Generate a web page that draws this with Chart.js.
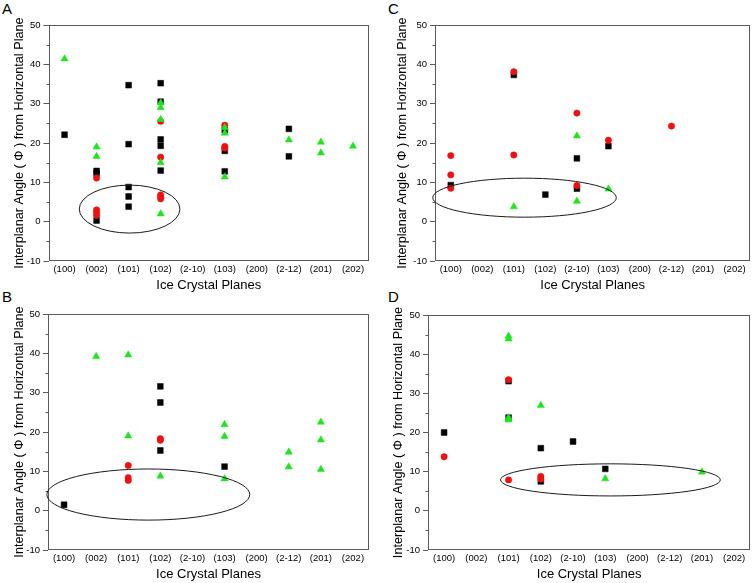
<!DOCTYPE html>
<html><head><meta charset="utf-8">
<script src="https://cdn.jsdelivr.net/npm/chart.js@4.4.0/dist/chart.umd.min.js"></script>
<style>
body{margin:0;background:#fff;width:755px;height:583px;position:relative;overflow:hidden;font-family:'Liberation Sans',Arial,sans-serif}
canvas{position:absolute}
.lbl{position:absolute;font-size:15px;line-height:15px;color:#000;font-family:'Liberation Sans',Arial,sans-serif}
</style></head><body>
<div class="lbl" style="left:2px;top:1px">A</div>
<div class="lbl" style="left:388px;top:1px">C</div>
<div class="lbl" style="left:2px;top:289px">B</div>
<div class="lbl" style="left:388px;top:289px">D</div>
<canvas id="cA" width="377" height="293" style="left:0;top:0"></canvas>
<canvas id="cC" width="372" height="293" style="left:383px;top:0"></canvas>
<canvas id="cB" width="377" height="292" style="left:0;top:290px"></canvas>
<canvas id="cD" width="376" height="292" style="left:379px;top:290px"></canvas>
<script>
const categories = ['(100)','(002)','(101)','(102)','(2-10)','(103)','(200)','(2-12)','(201)','(202)'];
const yMin = -10, yMax = 50, yStep = 10;
const xTitle = 'Ice Crystal Planes';
const yTitle = 'Interplanar Angle ( \u03A6 ) from Horizontal Plane';

// Panel A
const A_squares = [['(100)',22.1],['(002)',12.9],['(002)',12.3],['(002)',0.3],['(101)',34.7],['(101)',19.7],['(101)',8.8],['(101)',6.4],['(101)',3.8],['(102)',35.2],['(102)',30.5],['(102)',20.9],['(102)',19.3],['(102)',13.0],['(103)',23.3],['(103)',18.0],['(103)',12.8],['(2-12)',23.6],['(2-12)',16.6]];
const A_circles = [['(002)',11.1],['(002)',3.0],['(002)',2.3],['(002)',1.6],['(102)',25.5],['(102)',16.4],['(102)',6.8],['(102)',6.2],['(102)',5.8],['(103)',24.5],['(103)',19.1],['(103)',18.7]];
const A_triangles = [['(100)',41.4],['(002)',19.0],['(002)',16.6],['(102)',30.2],['(102)',29.0],['(102)',26.0],['(102)',15.0],['(102)',2.0],['(103)',23.9],['(103)',22.5],['(103)',11.4],['(2-12)',20.8],['(201)',20.2],['(201)',17.5],['(202)',19.2]];
const A_ellipse = [2.03, 3.2, 1.57, 6.1];

// Panel B
const B_squares = [['(100)',1.5],['(102)',31.6],['(102)',27.5],['(102)',15.3],['(103)',11.2]];
const B_circles = [['(101)',11.5],['(101)',8.4],['(101)',7.7],['(102)',18.3],['(102)',17.9]];
const B_triangles = [['(002)',39.2],['(101)',39.6],['(101)',19.0],['(102)',8.8],['(103)',21.9],['(103)',18.9],['(103)',8.1],['(2-12)',14.9],['(2-12)',11.1],['(201)',22.5],['(201)',18.0],['(201)',10.5]];
const B_ellipse = [2.625, 4.1, 3.16, 6.5];

// Panel C
const C_squares = [['(100)',9.3],['(101)',37.3],['(102)',6.9],['(2-10)',16.1],['(2-10)',8.4],['(103)',19.2]];
const C_circles = [['(100)',16.8],['(100)',11.9],['(100)',8.5],['(101)',38.1],['(101)',16.95],['(2-10)',27.6],['(2-10)',9.2],['(103)',20.7],['(2-12)',24.3]];
const C_triangles = [['(101)',3.8],['(2-10)',21.8],['(2-10)',5.2],['(103)',8.3]];
const C_ellipse = [2.34, 6.1, 2.91, 4.96];

// Panel D
const D_squares = [['(100)',20.0],['(101)',33.1],['(101)',23.8],['(102)',16.0],['(102)',7.5],['(2-10)',17.7],['(103)',10.7]];
const D_circles = [['(100)',13.8],['(101)',33.5],['(101)',7.9],['(102)',8.8],['(102)',8.1]];
const D_triangles = [['(101)',44.6],['(101)',43.9],['(101)',23.8],['(101)',23.2],['(102)',26.9],['(103)',8.2],['(201)',9.9]];
const D_ellipse = [5.16, 7.9, 3.41, 4.1];

const FONT = "'Liberation Sans', Arial, sans-serif";
const GREEN = '#1ee61e', RED = '#f01010', BLACK = '#000000';
const FRAME = '#5a5a5a';

const decorPlugin = {
  id: 'decor',
  afterDatasetsDraw(chart, args, opts) {
    const ctx = chart.ctx, a = chart.chartArea, xs = chart.scales.x, ys = chart.scales.y;
    ctx.save();
    ctx.strokeStyle = FRAME; ctx.lineWidth = 1;
    const l = Math.round(a.left) + 0.5, t = Math.round(a.top) + 0.5;
    const r = Math.round(a.right) - 0.5, b = Math.round(a.bottom) - 0.5;
    ctx.strokeRect(l, t, r - l, b - t);
    const tk = ys.ticks;
    ctx.beginPath();
    for (let i = 0; i < tk.length - 1; i++) {
      const py = Math.round(ys.getPixelForValue((tk[i].value + tk[i+1].value) / 2)) + 0.5;
      ctx.moveTo(l - 3, py); ctx.lineTo(l, py);
    }
    ctx.stroke();
    const e = opts.ellipse;
    if (e) {
      const cx = xs.getPixelForValue(e[0]), cy = ys.getPixelForValue(e[1]);
      const rx = Math.abs(xs.getPixelForValue(e[0] + e[2]) - cx);
      const ry = Math.abs(ys.getPixelForValue(e[1] + e[3]) - cy);
      ctx.strokeStyle = '#1a1a1a'; ctx.lineWidth = 1;
      ctx.beginPath(); ctx.ellipse(cx, cy, rx, ry, 0, 0, Math.PI * 2); ctx.stroke();
    }
    ctx.restore();
  }
};

function pts(arr) { return arr.map(p => ({x: p[0], y: p[1]})); }

function makePanel(id, squares, circles, triangles, ellipse, g) {
  new Chart(document.getElementById(id), {
    type: 'scatter',
    data: {
      labels: categories,
      datasets: [
        {data: pts(triangles), pointStyle: 'triangle', pointRadius: 4.2, backgroundColor: GREEN, borderColor: GREEN, borderWidth: 0.5},
        {data: pts(circles), pointStyle: 'circle', pointRadius: 3.2, backgroundColor: RED, borderColor: RED, borderWidth: 0.5},
        {data: pts(squares), pointStyle: 'rect', pointRadius: 4.1, backgroundColor: BLACK, borderColor: BLACK, borderWidth: 0.5}
      ]
    },
    options: {
      responsive: false, animation: false, devicePixelRatio: 1,
      layout: {padding: {top: g.top, right: g.right, left: 0, bottom: 0}},
      plugins: {legend: {display: false}, tooltip: {enabled: false}, decor: {ellipse: ellipse}},
      scales: {
        x: {
          type: 'category', labels: categories, offset: true,
          grid: {display: false, drawTicks: false},
          border: {display: false},
          ticks: {autoSkip: false, maxRotation: 0, padding: 3, color: '#000', font: {family: FONT, size: 9.5}},
          title: {display: true, text: xTitle, color: '#000', font: {family: FONT, size: 13}, padding: {top: 0, bottom: 0}},
          afterFit(s) { s.height = g.xh; }
        },
        y: {
          type: 'linear', min: yMin, max: yMax,
          grid: {drawOnChartArea: false, drawTicks: true, tickLength: 5, color: FRAME},
          border: {display: false},
          ticks: {stepSize: yStep, padding: 3, color: '#000', font: {family: FONT, size: 9.5}},
          title: {display: true, text: yTitle, color: '#000', font: {family: FONT, size: 12.7}, padding: {top: 12, bottom: 0}},
          afterFit(s) { s.width = g.yw; }
        }
      }
    },
    plugins: [decorPlugin]
  });
}

makePanel('cA', A_squares, A_circles, A_triangles, A_ellipse, {top: 25, right: 8, yw: 48.5, xh: 32});
makePanel('cC', C_squares, C_circles, C_triangles, C_ellipse, {top: 25, right: 2, yw: 52, xh: 32});
makePanel('cB', B_squares, B_circles, B_triangles, B_ellipse, {top: 24, right: 8, yw: 48, xh: 32});
makePanel('cD', D_squares, D_circles, D_triangles, D_ellipse, {top: 25, right: 2, yw: 49, xh: 32});
</script>
</body></html>
